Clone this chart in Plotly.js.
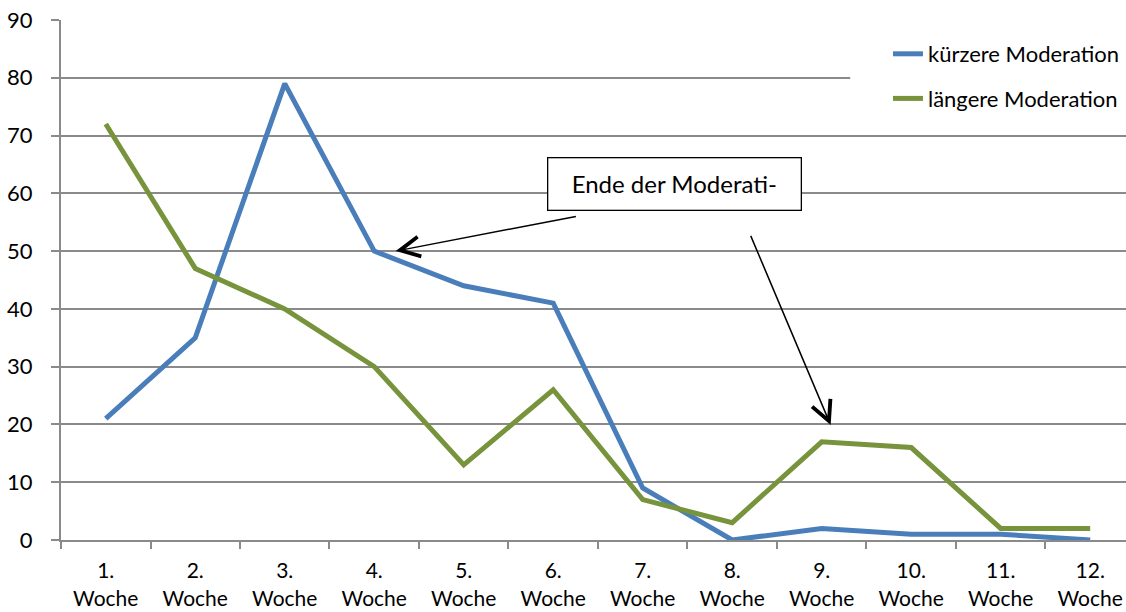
<!DOCTYPE html>
<html>
<head>
<meta charset="utf-8">
<script src="https://cdn.plot.ly/plotly-3.0.1.min.js"></script>
<style>html,body{margin:0;padding:0;background:#fff;}#chart{width:1126px;height:612px;}</style>
</head>
<body>
<div id="chart"></div>
<script>
var categories = ["1.<br>Woche","2.<br>Woche","3.<br>Woche","4.<br>Woche","5.<br>Woche","6.<br>Woche","7.<br>Woche","8.<br>Woche","9.<br>Woche","10.<br>Woche","11.<br>Woche","12.<br>Woche"];
var kuerzere = [21, 35, 79, 50, 44, 41, 9, 0, 2, 1, 1, 0];
var laengere = [72, 47, 40, 30, 13, 26, 7, 3, 17, 16, 2, 2];
var seriesNames = ["kürzere Moderation", "längere Moderation"];
var yTicks = [0, 10, 20, 30, 40, 50, 60, 70, 80, 90];
var annotationText = "Ende der Moderati-";

var FONT = "Lato, 'Open Sans', sans-serif";
var GRID = "#8a8a8a";

var traces = [
  {x: categories, y: kuerzere, name: seriesNames[0], type: "scatter", mode: "lines",
   line: {color: "#4A7EBB", width: 5}, legendgroup: "a"},
  {x: categories, y: laengere, name: seriesNames[1], type: "scatter", mode: "lines",
   line: {color: "#77933C", width: 5}, legendgroup: "b"}
];

var layout = {
  width: 1126, height: 612,
  margin: {l: 61, r: 0, t: 20, b: 72, pad: 0},
  paper_bgcolor: "#fff", plot_bgcolor: "#fff",
  font: {family: FONT, size: 22, color: "#000"},
  showlegend: true,
  legend: {x: 0.7765, y: 0.975, xanchor: "left", yanchor: "top", bgcolor: "#fff",
           font: {family: FONT, size: 22, color: "#000"}, tracegroupgap: 13, traceorder: "grouped"},
  xaxis: {type: "category", range: [-0.5, 11.4], showgrid: false, zeroline: false,
          showline: true, linecolor: GRID, linewidth: 2,
          ticks: "outside", tickson: "boundaries", ticklen: 7, tickwidth: 2, tickcolor: GRID,
          tickfont: {family: FONT, size: 21, color: "#000"}, ticklabelstandoff: 11, fixedrange: true},
  yaxis: {range: [0, 90], tickvals: yTicks, showgrid: true, gridcolor: GRID, gridwidth: 2,
          zeroline: false, showline: true, linecolor: GRID, linewidth: 2,
          ticks: "outside", ticklen: 8, tickwidth: 2, tickcolor: GRID,
          tickfont: {family: FONT, size: 22, color: "#000"}, ticklabelstandoff: 14, fixedrange: true},
  shapes: [
    {type: "rect", xref: "paper", yref: "paper", x0: 0.741, x1: 1, y0: 0.781, y1: 0.996,
     fillcolor: "#fff", line: {width: 0}, layer: "above"}
  ],
  annotations: [
    {xref: "x", yref: "y", x: 6.36, y: 61.7, text: annotationText, showarrow: false,
     width: 252, height: 51, bordercolor: "#000", borderwidth: 1.3, bgcolor: "#fff", borderpad: 0,
     font: {family: FONT, size: 24, color: "#000"}},
    {xref: "x", yref: "y", x: 3.24, y: 50, axref: "x", ayref: "y", ax: 5.27, ay: 56.06,
     text: "", showarrow: true, arrowhead: 5, arrowsize: 2.6, arrowwidth: 1.5, arrowcolor: "#000"},
    {xref: "x", yref: "y", x: 8.1, y: 19.9, axref: "x", ayref: "y", ax: 7.2, ay: 52.9,
     text: "", showarrow: true, arrowhead: 5, arrowsize: 2.6, arrowwidth: 1.5, arrowcolor: "#000"}
  ]
};

Plotly.newPlot("chart", traces, layout, {displayModeBar: false, staticPlot: true});
</script>
</body>
</html>
